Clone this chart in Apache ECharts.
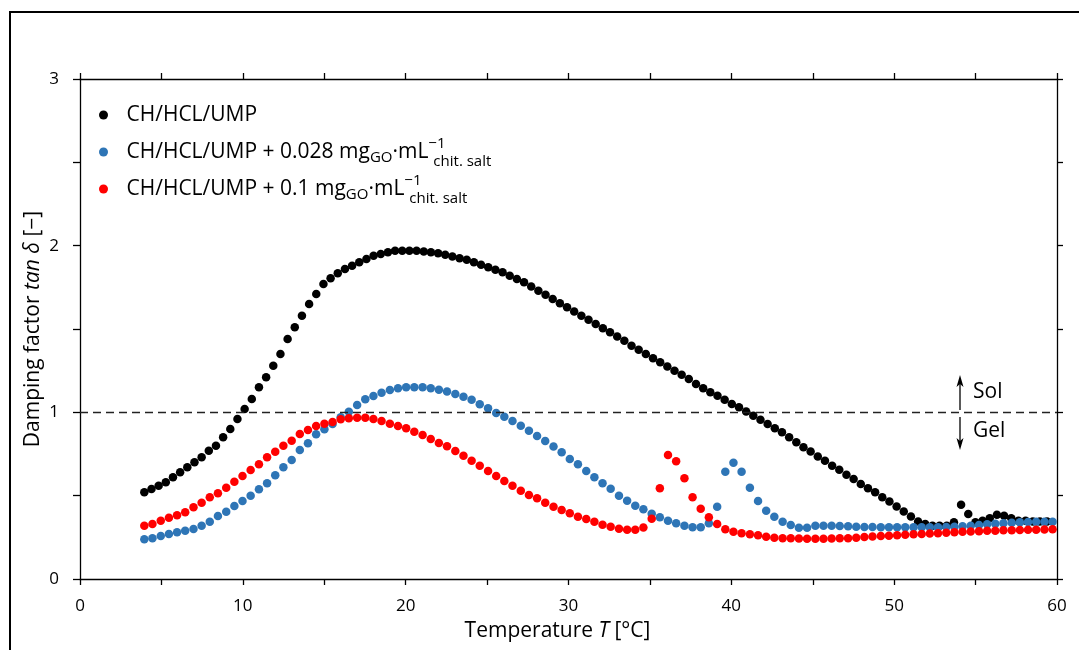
<!DOCTYPE html>
<html>
<head>
<meta charset="utf-8">
<script src="https://cdn.jsdelivr.net/npm/echarts@6/dist/echarts.min.js"></script>
<style>
  html, body { margin: 0; padding: 0; background: #fff; }
  #chart { width: 1079px; height: 650px; }
</style>
</head>
<body>
<div id="chart"></div>
<script>
// series names
const seriesNames = [
  'CH/HCL/UMP',
  'CH/HCL/UMP + 0.028 mgGO·mL−1chit. salt',
  'CH/HCL/UMP + 0.1 mgGO·mL−1chit. salt'
]

// CH/HCL/UMP: temperature [°C] and tan delta
const blackT = [3.95, 4.39, 4.83, 5.27, 5.71, 6.15, 6.59, 7.03, 7.47, 7.91, 8.35, 8.79, 9.23, 9.67, 10.11, 10.55, 10.99, 11.43, 11.87, 12.31,
  12.75, 13.19, 13.63, 14.07, 14.51, 14.95, 15.39, 15.83, 16.27, 16.71, 17.15, 17.59, 18.03, 18.47, 18.91, 19.35, 19.79, 20.23, 20.67, 21.11,
  21.55, 21.99, 22.43, 22.87, 23.31, 23.75, 24.19, 24.63, 25.07, 25.51, 25.95, 26.39, 26.83, 27.27, 27.71, 28.15, 28.59, 29.03, 29.47, 29.91,
  30.35, 30.79, 31.23, 31.67, 32.11, 32.55, 32.99, 33.43, 33.87, 34.31, 34.75, 35.19, 35.63, 36.07, 36.51, 36.95, 37.39, 37.83, 38.27, 38.71,
  39.15, 39.59, 40.03, 40.47, 40.91, 41.35, 41.79, 42.23, 42.67, 43.11, 43.55, 43.99, 44.43, 44.87, 45.31, 45.75, 46.19, 46.63, 47.07, 47.51,
  47.95, 48.39, 48.83, 49.27, 49.71, 50.15, 50.59, 51.03, 51.47, 51.91, 52.35, 52.79, 53.23, 53.67, 54.11, 54.55, 54.99, 55.43, 55.87, 56.31,
  56.75, 57.19, 57.63, 58.07, 58.51, 58.95, 59.39]
const blackV = [0.52, 0.54, 0.56, 0.58, 0.61, 0.64, 0.67, 0.70, 0.73, 0.77, 0.80, 0.85, 0.90, 0.96, 1.02, 1.08, 1.15, 1.21, 1.28, 1.35,
  1.44, 1.51, 1.58, 1.65, 1.71, 1.77, 1.805, 1.835, 1.86, 1.88, 1.90, 1.92, 1.94, 1.95, 1.96, 1.97, 1.97, 1.97, 1.97, 1.965,
  1.96, 1.955, 1.945, 1.935, 1.925, 1.915, 1.90, 1.885, 1.87, 1.855, 1.84, 1.82, 1.80, 1.78, 1.755, 1.73, 1.705, 1.68, 1.655, 1.63,
  1.605, 1.58, 1.555, 1.53, 1.505, 1.48, 1.455, 1.43, 1.40, 1.375, 1.35, 1.325, 1.30, 1.275, 1.25, 1.225, 1.20, 1.17, 1.145, 1.12,
  1.10, 1.075, 1.05, 1.03, 1.005, 0.98, 0.955, 0.93, 0.905, 0.88, 0.85, 0.82, 0.79, 0.765, 0.735, 0.71, 0.68, 0.655, 0.625, 0.60,
  0.57, 0.545, 0.52, 0.49, 0.465, 0.435, 0.405, 0.375, 0.345, 0.33, 0.32, 0.32, 0.32, 0.34, 0.445, 0.39, 0.34, 0.35, 0.365, 0.385,
  0.38, 0.365, 0.35, 0.35, 0.345, 0.345, 0.345]

// GO samples share the same temperature steps
const goT = [3.95, 4.45, 4.96, 5.46, 5.96, 6.46, 6.97, 7.47, 7.97, 8.47, 8.98, 9.48, 9.98, 10.48, 10.99, 11.49, 11.99, 12.49, 13.0, 13.5,
  14.0, 14.5, 15.01, 15.51, 16.01, 16.51, 17.02, 17.52, 18.02, 18.52, 19.03, 19.53, 20.03, 20.53, 21.04, 21.54, 22.04, 22.54, 23.05, 23.55,
  24.05, 24.55, 25.06, 25.56, 26.06, 26.56, 27.07, 27.57, 28.07, 28.57, 29.08, 29.58, 30.08, 30.58, 31.09, 31.59, 32.09, 32.59, 33.1, 33.6,
  34.1, 34.6, 35.11, 35.61, 36.11, 36.61, 37.12, 37.62, 38.12, 38.62, 39.13, 39.63, 40.13, 40.63, 41.14, 41.64, 42.14, 42.64, 43.15, 43.65,
  44.15, 44.65, 45.16, 45.66, 46.16, 46.66, 47.17, 47.67, 48.17, 48.67, 49.18, 49.68, 50.18, 50.68, 51.19, 51.69, 52.19, 52.69, 53.2, 53.7,
  54.2, 54.7, 55.21, 55.71, 56.21, 56.71, 57.22, 57.72, 58.22, 58.72, 59.23, 59.73]

const blueV = [0.238, 0.245, 0.258, 0.27, 0.28, 0.29, 0.30, 0.32, 0.344, 0.378, 0.404, 0.438, 0.468, 0.50, 0.538, 0.574, 0.622, 0.67, 0.714, 0.774,
  0.814, 0.868, 0.898, 0.93, 0.97, 1.004, 1.044, 1.078, 1.098, 1.118, 1.134, 1.144, 1.15, 1.15, 1.15, 1.145, 1.135, 1.125, 1.11, 1.094,
  1.075, 1.048, 1.024, 0.996, 0.974, 0.948, 0.92, 0.89, 0.858, 0.828, 0.795, 0.76, 0.72, 0.688, 0.648, 0.61, 0.574, 0.542, 0.50, 0.47,
  0.44, 0.418, 0.392, 0.37, 0.35, 0.334, 0.32, 0.31, 0.31, 0.334, 0.434, 0.644, 0.698, 0.644, 0.548, 0.468, 0.41, 0.374, 0.344, 0.324,
  0.308, 0.308, 0.32, 0.32, 0.32, 0.318, 0.316, 0.314, 0.312, 0.312, 0.31, 0.31, 0.31, 0.31, 0.31, 0.31, 0.31, 0.31, 0.312, 0.314,
  0.316, 0.32, 0.324, 0.328, 0.332, 0.335, 0.338, 0.34, 0.342, 0.343, 0.344, 0.344]

const redV = [0.32, 0.33, 0.35, 0.367, 0.383, 0.40, 0.43, 0.458, 0.49, 0.514, 0.548, 0.584, 0.618, 0.654, 0.688, 0.73, 0.764, 0.80, 0.83, 0.87,
  0.894, 0.918, 0.932, 0.942, 0.958, 0.964, 0.967, 0.968, 0.96, 0.948, 0.932, 0.918, 0.904, 0.884, 0.864, 0.84, 0.816, 0.796, 0.768, 0.74,
  0.71, 0.68, 0.648, 0.618, 0.588, 0.56, 0.53, 0.504, 0.484, 0.458, 0.434, 0.414, 0.394, 0.374, 0.36, 0.344, 0.326, 0.314, 0.302, 0.296,
  0.296, 0.309, 0.362, 0.544, 0.744, 0.706, 0.604, 0.49, 0.422, 0.37, 0.33, 0.298, 0.284, 0.274, 0.268, 0.262, 0.254, 0.248, 0.245, 0.244,
  0.243, 0.242, 0.242, 0.242, 0.243, 0.244, 0.245, 0.248, 0.252, 0.255, 0.258, 0.26, 0.262, 0.265, 0.268, 0.27, 0.273, 0.275, 0.278, 0.28,
  0.283, 0.285, 0.287, 0.289, 0.29, 0.292, 0.293, 0.294, 0.295, 0.296, 0.297, 0.298]

const colors = ['#000000', '#2e75b6', '#ff0000']
const FONT = "'Open Sans', 'Noto Sans', sans-serif"

const legendText = {
  [seriesNames[0]]: '{a|CH/HCL/UMP}',
  [seriesNames[1]]: '{a|CH/HCL/UMP + 0.028 mg}{sub|GO}{a|·mL}{sup|−1}{sub2|chit. salt}',
  [seriesNames[2]]: '{a|CH/HCL/UMP + 0.1 mg}{sub|GO}{a|·mL}{sup|−1}{sub2|chit. salt}'
}
const legendRich = {
  a: { fontFamily: FONT, fontSize: 21, color: '#000', lineHeight: 40 },
  sub: { fontFamily: FONT, fontSize: 15, color: '#000', lineHeight: 18, padding: [11, 0, 0, 0] },
  sub2: { fontFamily: FONT, fontSize: 15, color: '#000', lineHeight: 18, padding: [20, 0, 0, 0] },
  sup: { fontFamily: FONT, fontSize: 15, color: '#000', lineHeight: 18, padding: [0, 0, 16, 0], width: 5 }
}

function legendRow(name, top) {
  return {
    data: [name], left: 99, top, padding: 0, orient: 'vertical',
    itemWidth: 36, itemHeight: 9, icon: 'circle', selectedMode: false,
    formatter: n => legendText[n],
    textStyle: { fontFamily: FONT, fontSize: 21, color: '#000', lineHeight: 40, rich: legendRich }
  }
}

const axisLine = { show: true, onZero: false, lineStyle: { color: '#000', width: 1.3 } }
const tick = len => ({ show: true, length: len, lineStyle: { color: '#000', width: 1.3 } })
const dot = c => ({ color: c, opacity: 1 })

const chart = echarts.init(document.getElementById('chart'), null, { renderer: 'canvas' })

chart.setOption({
  animation: false,
  backgroundColor: '#fff',
  grid: { left: 80, right: 22, top: 79, bottom: 71 },
  legend: [
    legendRow(seriesNames[0], 95),
    legendRow(seriesNames[1], 132),
    legendRow(seriesNames[2], 169)
  ],
  xAxis: [
    {
      type: 'value', min: 0, max: 60, interval: 5, position: 'bottom',
      axisLine, axisTick: tick(6), splitLine: { show: false },
      axisLabel: {
        margin: 19, color: '#000', fontFamily: FONT, fontSize: 17,
        formatter: v => (v % 10 === 0 ? String(v) : '')
      },
      name: '{a|Temperature }{i|T}{a| [°C]}', nameLocation: 'middle', nameGap: 42, nameMoveOverlap: false,
      nameTextStyle: {
        padding: [0, 22, 0, 0],
        rich: {
          a: { fontFamily: FONT, fontSize: 21, color: '#000' },
          i: { fontFamily: FONT, fontSize: 21, color: '#000', fontStyle: 'italic' }
        }
      }
    },
    {
      type: 'value', min: 0, max: 60, interval: 5, position: 'top',
      axisLine, axisTick: tick(6), axisLabel: { show: false }, splitLine: { show: false }
    }
  ],
  yAxis: [
    {
      type: 'value', min: 0, max: 3, interval: 0.5, position: 'left',
      axisLine, axisTick: tick(7), splitLine: { show: false },
      axisLabel: {
        margin: 21, color: '#000', fontFamily: FONT, fontSize: 17,
        formatter: v => (Number.isInteger(v) ? String(v) : '')
      },
      name: '{a|Damping factor }{i|tan δ}{a| [−]}', nameLocation: 'middle', nameGap: 36, nameMoveOverlap: false,
      nameTextStyle: {
        rich: {
          a: { fontFamily: FONT, fontSize: 21, color: '#000' },
          i: { fontFamily: FONT, fontSize: 21, color: '#000', fontStyle: 'italic' }
        }
      }
    },
    {
      type: 'value', min: 0, max: 3, interval: 0.5, position: 'right',
      axisLine, axisTick: tick(6), axisLabel: { show: false }, splitLine: { show: false }
    }
  ],
  series: [
    {
      name: seriesNames[0], type: 'scatter', symbol: 'circle', symbolSize: 8.5,
      itemStyle: dot(colors[0]), emphasis: { disabled: true },
      data: blackT.map((t, i) => [t, blackV[i]]),
      markLine: {
        silent: true, symbol: 'none', label: { show: false },
        lineStyle: { color: '#222', width: 1.3, type: [8, 5] },
        data: [{ yAxis: 1 }]
      }
    },
    {
      name: seriesNames[1], type: 'scatter', symbol: 'circle', symbolSize: 8.5,
      itemStyle: dot(colors[1]), emphasis: { disabled: true },
      data: goT.map((t, i) => [t, blueV[i]])
    },
    {
      name: seriesNames[2], type: 'scatter', symbol: 'circle', symbolSize: 8.5,
      itemStyle: dot(colors[2]), emphasis: { disabled: true },
      data: goT.map((t, i) => [t, redV[i]])
    }
  ],
  graphic: [
    // outer frame
    { type: 'rect', silent: true, z: -10, shape: { x: 10, y: 12, width: 1200, height: 800 }, style: { fill: 'none', stroke: '#000', lineWidth: 2 } },
    // sol / gel arrows
    { type: 'line', silent: true, shape: { x1: 960, y1: 410, x2: 960, y2: 381 }, style: { stroke: '#000', lineWidth: 1.3 } },
    { type: 'polygon', silent: true, shape: { points: [[960, 375], [956.5, 387], [960, 384], [963.5, 387]] }, style: { fill: '#000' } },
    { type: 'line', silent: true, shape: { x1: 960, y1: 417, x2: 960, y2: 444 }, style: { stroke: '#000', lineWidth: 1.3 } },
    { type: 'polygon', silent: true, shape: { points: [[960, 450], [956.5, 438], [960, 441], [963.5, 438]] }, style: { fill: '#000' } },
    { type: 'text', silent: true, style: { text: 'Sol', x: 973, y: 392, fill: '#000', font: "21px 'Open Sans'", verticalAlign: 'middle' } },
    { type: 'text', silent: true, style: { text: 'Gel', x: 973, y: 431, fill: '#000', font: "21px 'Open Sans'", verticalAlign: 'middle' } }
  ]
})
</script>
</body>
</html>
